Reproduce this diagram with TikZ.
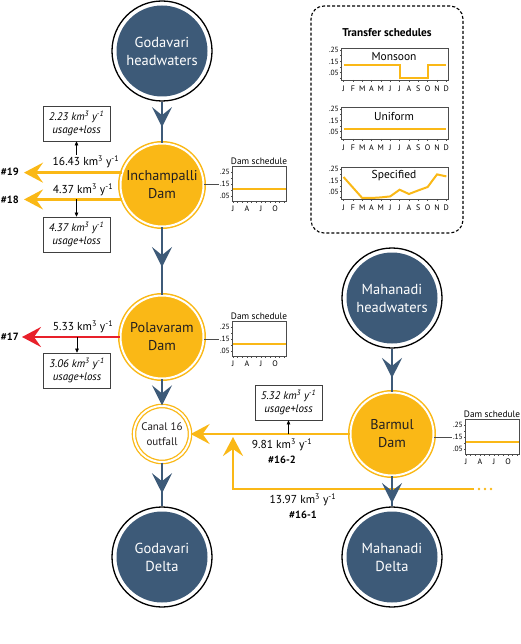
\documentclass[tikz,border=0pt]{standalone}
\usepackage{fontspec}
\setmainfont{PT Sans}
\usetikzlibrary{arrows.meta,decorations.markings}
\definecolor{riverblue}{RGB}{61,90,120}
\definecolor{damorange}{RGB}{250,184,22}
\definecolor{cutred}{RGB}{232,32,42}
\definecolor{inktext}{RGB}{35,31,32}
\tikzset{
  river/.style      = {circle, draw=black, line width=1.3pt, fill=white, minimum size=100pt, inner sep=0, align=center, text=white, font=\fontsize{14.5}{18}\selectfont, path picture={\fill[riverblue] (path picture bounding box.center) circle[radius=45.5pt];}},
  dam/.style        = {circle, draw=damorange, line width=1.5pt, double=white, double distance=2pt, fill=damorange, minimum size=83pt, inner sep=0, align=center, text=inktext, font=\fontsize{14.2}{18}\selectfont},
  outfall/.style    = {circle, draw=damorange, line width=1.3pt, double=white, double distance=2pt, fill=white, minimum size=56pt, inner sep=0, align=center, text=inktext, font=\fontsize{11}{14.5}\selectfont},
  bigtip/.tip       = {Stealth[length=20pt, width=20pt, inset=8pt]},
  flow/.style       = {riverblue, line width=2pt, postaction=decorate, decoration={markings, mark=at position #1 with {\arrow{bigtip}}}},
  flowend/.style    = {riverblue, line width=2pt, -bigtip},
  transfer/.style   = {damorange, line width=2.7pt, -{Stealth[length=19pt, width=20pt, inset=7pt]}},
  trail/.style      = {damorange, line width=2.6pt, line cap=round, dash pattern=on 0pt off 6pt, shorten <=5pt},
  note/.style       = {black, line width=0.6pt, -{Triangle[length=4pt, width=3.6pt]}},
  usebox/.style     = {rectangle, draw=black!75, line width=0.7pt, fill=white, minimum width=67pt, minimum height=35pt, inner sep=1pt, align=center, font=\fontsize{11}{13}\selectfont\itshape},
  flowlab/.style    = {font=\fontsize{11.5}{13}\selectfont, inner sep=1pt},
  tag/.style        = {font=\fontsize{10.5}{12}\selectfont\bfseries, inner sep=1pt},
  xferbox/.style    = {rectangle, draw, line width=1.1pt, dash pattern=on 3pt off 2pt, rounded corners=13pt, minimum width=152pt, minimum height=227pt},
  chartframe/.style = {draw=black!70, line width=0.6pt},
  schedline/.style  = {draw=damorange, line width=2pt},
  ticklab/.style    = {font=\fontsize{7.5}{8}\selectfont, inner sep=0.5pt},
  monthlab/.style   = {font=\fontsize{8}{9}\selectfont, inner sep=0},
  charttitle/.style = {font=\fontsize{9.3}{10}\selectfont, inner sep=0},
  damchart/.pic     = {
    \node[charttitle] at (27,-5) {Dam schedule};
    \draw[chartframe] (0,0) rectangle (54,35);
    \foreach \ty in {6,12,...,30} \draw[chartframe] (0,\ty) -- (-1.5,\ty);
    \node[ticklab, anchor=east] at (-1.5,6) {.25};
    \node[ticklab, anchor=east] (-mid) at (-1.5,18) {.15};
    \node[ticklab, anchor=east] at (-1.5,30) {.05};
    \foreach \mi in {0,...,11} \draw[chartframe] (1+4.67*\mi,35) -- ++(0,2);
    \foreach \mo/\mi in {J/0,A/3,J/6,O/9} \node[monthlab] at (1+4.67*\mi,43) {\mo};
    \draw[schedline] (0.5,23) -- (53.5,23);
  },
  xferchart/.pic    = {
    \draw[chartframe] (0,0) rectangle (107,32);
    \node[font=\fontsize{11.5}{13}\selectfont, inner sep=0] at (53,9) {#1};
    \foreach \ty in {2,7.7,13.4,19.1,24.8,30.5} \draw[chartframe] (0,\ty) -- (-1.5,\ty);
    \foreach \ty/\tl in {2/.25,13.4/.15,24.8/.05} \node[ticklab, anchor=east] at (-1.5,\ty) {\tl};
    \foreach \mo [count=\mi from 0] in {J,F,M,A,M,J,J,A,S,O,N,D} {
      \draw[chartframe] (2.5+9.35*\mi,32) -- ++(0,2);
      \node[monthlab] at (2.5+9.35*\mi,41) {\mo};
    }
  }
}

\begin{document}
\begin{tikzpicture}[x=1pt, y=-1pt]

  \useasboundingbox (0,0) rectangle (520,644);

  % ---- Godavari column ----
  \node[river]   (gh)   at (162, 51) {Godavari\\headwaters};
  \node[dam]     (inch) at (162,185) {Inchampalli\\Dam};
  \node[dam]     (pol)  at (162,337) {Polavaram\\Dam};
  \node[outfall] (c16)  at (162,434) {Canal 16\\outfall};
  \node[river]   (gd)   at (162,557) {Godavari\\Delta};

  % ---- Mahanadi column ----
  \node[river]   (mh)   at (392,298) {Mahanadi\\headwaters};
  \node[dam]     (bar)  at (392,434) {Barmul\\Dam};
  \node[river]   (md)   at (392,557) {Mahanadi\\Delta};

  % ---- dam schedules ----
  \pic (ic) at (232,166) {damchart}; \draw[chartframe] (inch.east |- ic-mid.west) -- (ic-mid.west);
  \pic (pc) at (232,321) {damchart}; \draw[chartframe] (pol.east |- pc-mid.west)  -- (pc-mid.west);
  \pic (bc) at (465,419) {damchart}; \draw[chartframe] (bar.east |- bc-mid.west)  -- (bc-mid.west);

  % ---- transfers west ----
  \node[tag, anchor=east] (t19) at (20,172) {\#19};
  \node[tag, anchor=east] (t18) at (20,200) {\#18};
  \node[tag, anchor=east] (t17) at (20,337) {\#17};
  \draw[transfer, shorten >=4pt]         (inch.163) -- (t19.east |- inch.163);
  \draw[transfer, shorten >=4pt]         (inch.200) -- (t18.east |- inch.200);
  \draw[transfer, cutred, shorten >=2pt] (pol.west) -- (t17.east |- pol.west);

  \node[flowlab] (q19) at (86,162) {16.43 km\textsuperscript{3} y\textsuperscript{-1}};
  \node[usebox]  (u19) at (76.5,123.5) {2.23 km\textsuperscript{3} y\textsuperscript{-1}\\usage+loss};
  \draw[note] (q19.north -| u19.south) -- (u19.south);

  \node[flowlab] (q18) at (83,190) {4.37 km\textsuperscript{3} y\textsuperscript{-1}};
  \node[usebox]  (u18) at (76.5,234.5) {4.37 km\textsuperscript{3} y\textsuperscript{-1}\\usage+loss};
  \draw[note] (u18.north |- inch.200) -- (u18.north);

  \node[flowlab] (q17) at (83,327) {5.33 km\textsuperscript{3} y\textsuperscript{-1}};
  \node[usebox]  (u17) at (77,370.5) {3.06 km\textsuperscript{3} y\textsuperscript{-1}\\usage+loss};
  \draw[note] (u17.north |- pol.west) -- (u17.north);

  % ---- canal 16 ----
  \draw[transfer] (bar.west) -- (c16.east);
  \node[flowlab] (q162) at (282,445) {9.81 km\textsuperscript{3} y\textsuperscript{-1}};
  \node[tag]     (t162) at (282,460) {\#16-2};
  \node[usebox]  (ub)   at (288.5,402.5) {5.32 km\textsuperscript{3} y\textsuperscript{-1}\\usage+loss};
  \draw[note] (ub.south |- bar.west) -- (ub.south);

  \coordinate (m16)  at (474,489);
  \coordinate (m16e) at (493,489);
  \coordinate (j16)  at (233,437);
  \draw[transfer] (m16) -| (j16);
  \draw[trail] (m16) -- (m16e);
  \node[flowlab] (q161) at (303,500) {13.97 km\textsuperscript{3} y\textsuperscript{-1}};
  \node[tag]     (t161) at (303,515) {\#16-1};

  % ---- river flows ----
  \draw[flow=0.62] (gh) -- (inch);
  \draw[flow=0.59] (inch) -- (pol);
  \draw[flowend]   (pol) -- (c16);
  \draw[flow=0.70] (c16) -- (gd);
  \draw[flow=0.68] (mh) -- (bar);
  \draw[flow=0.89] (bar) -- (md);

  % ---- transfer schedules ----
  \node[xferbox] (xf) at (387,119.5) {};
  \node[font=\fontsize{11.3}{13}\selectfont\bfseries] (xft) at (387,33) {Transfer schedules};
  \pic at (341,48)  {xferchart=Monsoon};
  \pic at (341,107) {xferchart=Uniform};
  \pic at (341,167) {xferchart=Specified};
  \draw[schedline, shift={(341,48)}]  (2.5,17) -- (58.6,17) -- (58.6,30) -- (86.7,30) -- (86.7,17) -- (105.4,17);
  \draw[schedline, shift={(341,107)}] (2.5,22) -- (105.4,22);
  \draw[schedline, shift={(341,167)}] (2.5,10) -- (21.2,31) -- (30.55,31) -- (39.9,30.4) -- (49.25,29.4) -- (58.6,22.7) -- (67.95,27) -- (77.3,23.4) -- (86.65,20) -- (96,7.4) -- (105.35,9.4);

\end{tikzpicture}
\end{document}
